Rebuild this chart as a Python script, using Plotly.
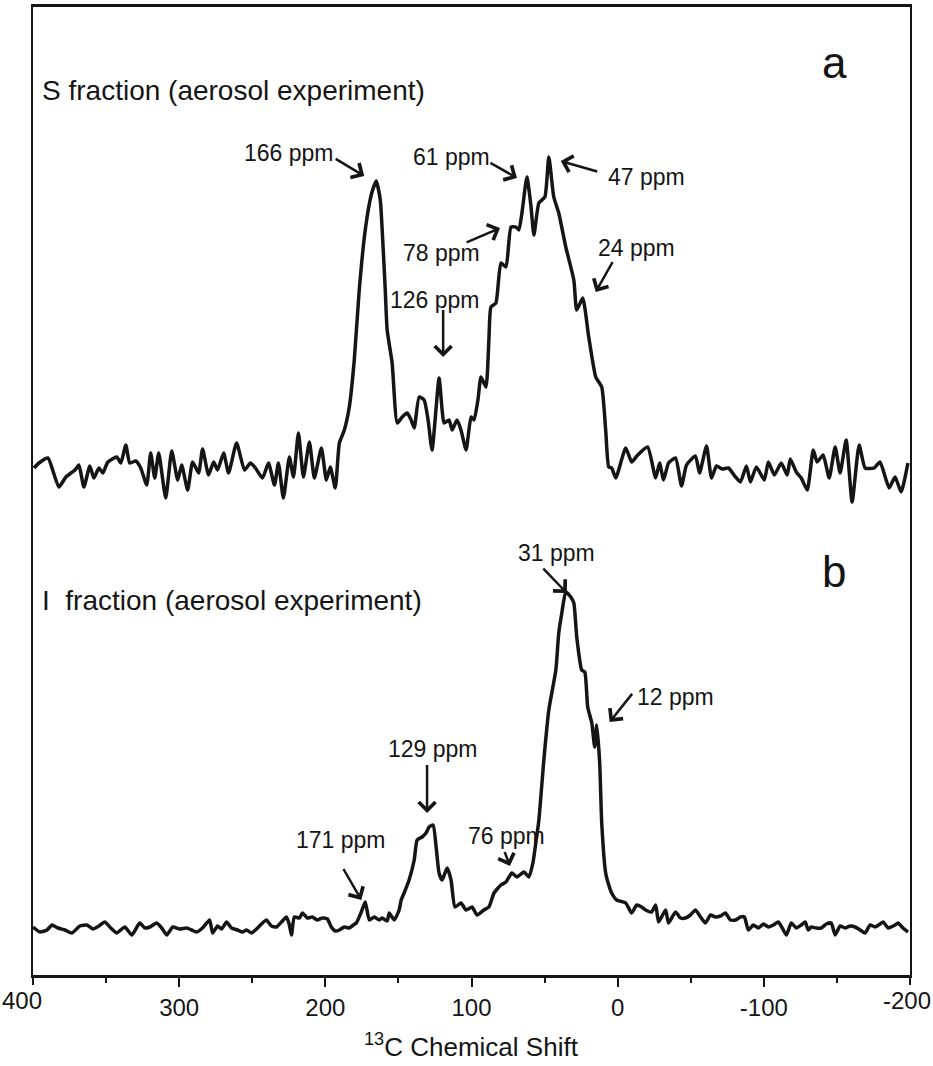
import plotly.graph_objects as go

# ---------------- data: spectrum a (S fraction) ----------------
shift_a = [399.3, 395.9, 389.8, 382.3, 377.5, 371.3, 368.6, 365.2, 361.1, 358.4, 354.9, 352.2,
           348.8, 342.7, 339.9, 336.5, 333.8, 329.7, 326.3, 322.2, 319.5, 316.7, 314.0, 309.2,
           305.1, 301.0, 298.3, 294.2, 290.8, 286.7, 284.0, 279.9, 276.4, 273.7, 269.6, 266.2,
           260.7, 255.3, 251.2, 247.8, 243.0, 238.9, 234.8, 232.1, 228.7, 224.6, 221.8, 218.4,
           215.0, 210.9, 207.5, 202.7, 199.3, 196.6, 193.2, 190.4, 187.0, 183.6, 180.2, 176.8,
           172.7, 168.6, 165.2, 162.4, 161.1, 159.0, 157.7, 154.3, 150.8, 147.4, 144.0, 141.3,
           139.2, 135.8, 132.4, 129.7, 127.0, 122.2, 120.1, 118.8, 115.3, 113.3, 109.9, 107.2,
           103.7, 100.3, 98.3, 95.6, 93.5, 90.1, 88.1, 86.7, 83.3, 79.9, 76.4, 73.0,
           69.6, 67.6, 65.5, 62.1, 59.4, 57.3, 53.9, 49.8, 47.1, 43.7, 40.3, 35.5,
           30.0, 28.0, 23.9, 19.8, 15.0, 10.9, 8.2, 6.1, 4.1, 1.3, -5.5, -9.6,
           -13.7, -20.5, -26.0, -28.7, -31.4, -34.8, -39.6, -43.7, -47.1, -53.2, -56.0, -60.8,
           -64.2, -67.6, -71.7, -75.8, -80.6, -84.0, -88.1, -90.8, -94.9, -100.3, -103.1, -107.2,
           -111.9, -116.0, -118.1, -122.2, -125.6, -129.7, -133.8, -136.5, -140.6, -144.7, -148.8, -152.2,
           -156.3, -160.4, -165.2, -169.3, -175.4, -179.5, -185.7, -189.8, -193.9, -198.6]
intensity_a = [-3, 2, 7, -22, -12, -5, 0, -22, -1, -13, -3, -8,
               3, 8, 2, 20, 2, 4, -3, -20, 12, -13, 12, -33,
               14, -15, 0, -25, 3, -8, 16, -10, 3, -5, 12, -8,
               22, -5, 2, -3, -13, 2, -20, 2, -33, 8, -12, 32,
               -12, 23, -13, 17, -15, -2, -23, 22, 35, 58, 105, 175,
               235, 270, 284, 265, 235, 175, 135, 102, 42, 48, 52, 45,
               37, 68, 65, 45, 15, 87, 55, 42, 45, 35, 45, 35,
               15, 48, 45, 65, 88, 78, 125, 158, 162, 202, 198, 238,
               238, 235, 252, 288, 260, 230, 262, 268, 308, 268, 252, 218,
               185, 155, 167, 128, 88, 78, 35, -2, -3, -13, 17, 3,
               10, 18, -13, 2, -15, 2, 7, -21, 0, 9, -8, 19,
               -13, -1, -4, -3, -12, -17, -1, -17, -2, -15, 3, -10,
               2, -10, 6, -7, -13, -25, 15, 3, 10, -13, 18, -8,
               25, -37, 20, -3, -3, 3, -23, -12, -27, 2]
offset_a = 510

# ---------------- data: spectrum b (I fraction) ----------------
shift_b = [400.0, 395.2, 390.4, 387.0, 382.9, 378.2, 373.4, 367.9, 363.1, 359.0, 354.9, 350.9,
           346.8, 342.7, 337.2, 332.4, 327.0, 323.5, 320.1, 315.4, 311.9, 308.5, 304.4, 299.7,
           294.9, 291.5, 288.1, 284.0, 279.2, 277.1, 273.7, 271.0, 267.6, 264.2, 260.1, 256.7,
           253.9, 250.5, 247.1, 243.7, 240.3, 236.9, 233.4, 230.0, 226.6, 224.6, 223.2, 221.2,
           217.7, 215.7, 212.3, 208.9, 205.5, 202.0, 198.6, 195.9, 193.2, 190.4, 187.0, 183.6,
           180.9, 178.8, 175.4, 172.7, 169.9, 166.5, 163.1, 161.1, 157.7, 156.3, 152.9, 149.5,
           148.1, 146.1, 142.7, 139.2, 137.2, 133.8, 131.1, 129.0, 126.3, 124.2, 122.2, 120.1,
           116.7, 114.0, 111.3, 107.2, 103.7, 99.6, 96.2, 91.5, 88.1, 84.6, 79.9, 76.4,
           72.4, 68.9, 64.2, 60.7, 58.0, 56.0, 53.9, 50.5, 47.1, 42.3, 40.3, 38.2,
           35.5, 32.1, 30.0, 28.0, 24.6, 22.5, 20.5, 17.7, 15.7, 14.3, 12.3, 10.9,
           8.2, 6.1, 4.1, 0.7, -5.5, -9.6, -13.0, -16.4, -19.1, -23.2, -26.0, -28.0,
           -32.8, -34.8, -39.6, -43.0, -46.4, -49.8, -53.2, -56.7, -60.1, -63.5, -66.9, -70.3,
           -73.7, -77.1, -80.6, -84.0, -86.7, -89.4, -92.8, -96.3, -99.7, -103.1, -106.5, -109.9,
           -112.6, -115.4, -118.8, -122.2, -125.6, -128.3, -130.4, -132.4, -135.8, -139.3, -142.7, -146.1,
           -148.8, -152.2, -155.6, -159.1, -162.5, -165.9, -169.3, -172.7, -176.1, -179.5, -181.6, -185.0,
           -187.0, -189.8, -191.8, -195.2, -198.6]
intensity_b = [0, -5, -3, 2, -1, -3, -6, 1, 2, -2, 1, 5,
               -1, -6, 0, -8, 4, -1, 0, 4, -1, -8, 0, -2,
               -1, -3, -5, -1, 7, -6, 1, -2, 5, -1, -3, -5,
               -3, -6, -2, 3, 7, 1, 0, 5, 10, 2, -8, 10,
               9, 14, 9, 10, 7, 9, 8, 0, -4, -3, 0, -1,
               2, 4, 15, 25, 7, 10, 7, 9, 6, 14, 7, 17,
               27, 34, 47, 67, 87, 90, 94, 100, 102, 80, 54, 47,
               59, 47, 20, 24, 17, 20, 12, 17, 20, 34, 42, 45,
               54, 50, 55, 50, 64, 84, 107, 167, 217, 257, 294, 314,
               335, 330, 324, 290, 257, 255, 220, 204, 180, 202, 164, 104,
               54, 42, 34, 27, 24, 14, 22, 20, 17, 15, 22, 5,
               17, 4, 15, 9, 9, 12, 17, 10, 4, 12, 10, 11,
               14, 7, 7, 10, 10, -3, 2, -1, 3, 0, 2, 5,
               -1, -8, 4, -1, 2, 5, -3, 0, -1, -1, 3, 4,
               -8, 1, -1, 1, 0, -3, -6, 2, 0, 3, 5, -1,
               0, 2, 4, -1, -5]
offset_b = 48

# peak labels: (text, text x, text y, arrow tail x, tail y, arrow head x, head y)
peak_labels = [
    ("166 ppm", 224.6, 822, 193.9, 817, 173.4, 799),
    ("61 ppm", 114.0, 818, 88.1, 813, 68.9, 797),
    ("47 ppm", -19.8, 798, 13.0, 803, 38.9, 814),
    ("78 ppm", 120.8, 722, 104.4, 732, 80.5, 747),
    ("24 ppm", -13.0, 727, 2.7, 715, 15.0, 683),
    ("126 ppm", 124.9, 675, 119.4, 667, 119.4, 618),
    ("31 ppm", 41.6, 422, 51.9, 408, 34.8, 382),
    ("12 ppm", -39.6, 278, -10.9, 283, 5.5, 253),
    ("129 ppm", 126.3, 226, 130.4, 212, 130.4, 162),
    ("76 ppm", 75.8, 139, 77.8, 125, 73.7, 109),
    ("171 ppm", 189.1, 135, 188.4, 108, 175.4, 75),
]

x_ticks = [400, 300, 200, 100, 0, -100, -200]
x_tick_text = ["400", "300", "200", "100", "0", "-100", "-200"]
x_minor_ticks = [350, 250, 150, 50, -50, -150]

FONT = "Liberation Sans, Arial, Helvetica, sans-serif"
INK = "#151515"

fig = go.Figure()
fig.add_trace(go.Scatter(x=shift_a, y=[v + offset_a for v in intensity_a], mode="lines",
                         line=dict(color=INK, width=3.5, shape="spline", smoothing=0.5),
                         showlegend=False, hoverinfo="skip"))
fig.add_trace(go.Scatter(x=shift_b, y=[v + offset_b for v in intensity_b], mode="lines",
                         line=dict(color=INK, width=3.5, shape="spline", smoothing=0.5),
                         showlegend=False, hoverinfo="skip"))

annotations = []
for txt, tx, ty, ax0, ay0, hx, hy in peak_labels:
    annotations.append(dict(x=tx, y=ty, xref="x", yref="y", text=txt, showarrow=False,
                            font=dict(family=FONT, size=23, color=INK)))
    annotations.append(dict(x=hx, y=hy, ax=ax0, ay=ay0, xref="x", yref="y", axref="x", ayref="y",
                            text=" ", showarrow=True, arrowhead=4, arrowsize=1.3, arrowwidth=2.5,
                            arrowcolor=INK, font=dict(size=1)))

# outermost tick labels drawn as text kept inside the page, like the reference
edge_labels = [(x_tick_text[0], "left", 0.0, -33), (x_tick_text[-1], "right", 1.0, 23)]
for txt, anchor, px, shift in edge_labels:
    annotations.append(dict(x=px, y=-25 / 968, xref="paper", yref="paper", xanchor=anchor,
                            yanchor="middle", xshift=shift,
                            text=txt, showarrow=False, font=dict(family=FONT, size=24, color=INK)))

annotations += [
    dict(x=395.2, y=885, xref="x", yref="y", xanchor="left", text="S fraction (aerosol experiment)",
         showarrow=False, font=dict(family=FONT, size=28, color=INK)),
    dict(x=395.2, y=375, xref="x", yref="y", xanchor="left", text="I  fraction (aerosol experiment)",
         showarrow=False, font=dict(family=FONT, size=28, color=INK)),
    dict(x=-148.1, y=913, xref="x", yref="y", text="a", showarrow=False,
         font=dict(family=FONT, size=44, color=INK)),
    dict(x=-148.1, y=404, xref="x", yref="y", text="b", showarrow=False,
         font=dict(family=FONT, size=44, color=INK)),
    dict(x=0.5, y=-70 / 968, xref="paper", yref="paper", yanchor="middle",
         text="<sup>13</sup>C Chemical Shift", showarrow=False,
         font=dict(family=FONT, size=26, color=INK)),
]

fig.update_layout(
    width=933, height=1066,
    margin=dict(l=33, r=23, t=7, b=91),
    paper_bgcolor="white", plot_bgcolor="white",
    annotations=annotations,
    xaxis=dict(range=[400, -200], tickvals=x_ticks[1:-1], ticktext=x_tick_text[1:-1],
               ticks="outside", ticklen=9, tickwidth=2, tickcolor=INK,
               minor=dict(tickvals=x_minor_ticks, ticks="outside",
                          ticklen=5, tickwidth=2, tickcolor=INK),
               showline=True, linewidth=3, linecolor=INK, mirror=True,
               showgrid=False, zeroline=False, automargin=False,
               tickfont=dict(family=FONT, size=24, color=INK)),
    # second axis only for the end tick marks at 400 and -200 (labels drawn above)
    xaxis2=dict(range=[400, -200], overlaying="x", anchor="y", side="bottom",
                tickvals=[x_ticks[0], x_ticks[-1]], showticklabels=False,
                ticks="outside", ticklen=9, tickwidth=2, tickcolor=INK,
                showline=False, showgrid=False, zeroline=False, automargin=False),
    yaxis=dict(range=[0, 968], showticklabels=False, ticks="", showgrid=False, zeroline=False,
               showline=True, linewidth=2, linecolor=INK, mirror=True),
)
# an invisible trace binds xaxis2 so its ticks are drawn
fig.add_trace(go.Scatter(x=[x_ticks[0], x_ticks[-1]], y=[None, None], xaxis="x2", mode="lines",
                         showlegend=False, hoverinfo="skip"))

fig.write_html("out.html")
